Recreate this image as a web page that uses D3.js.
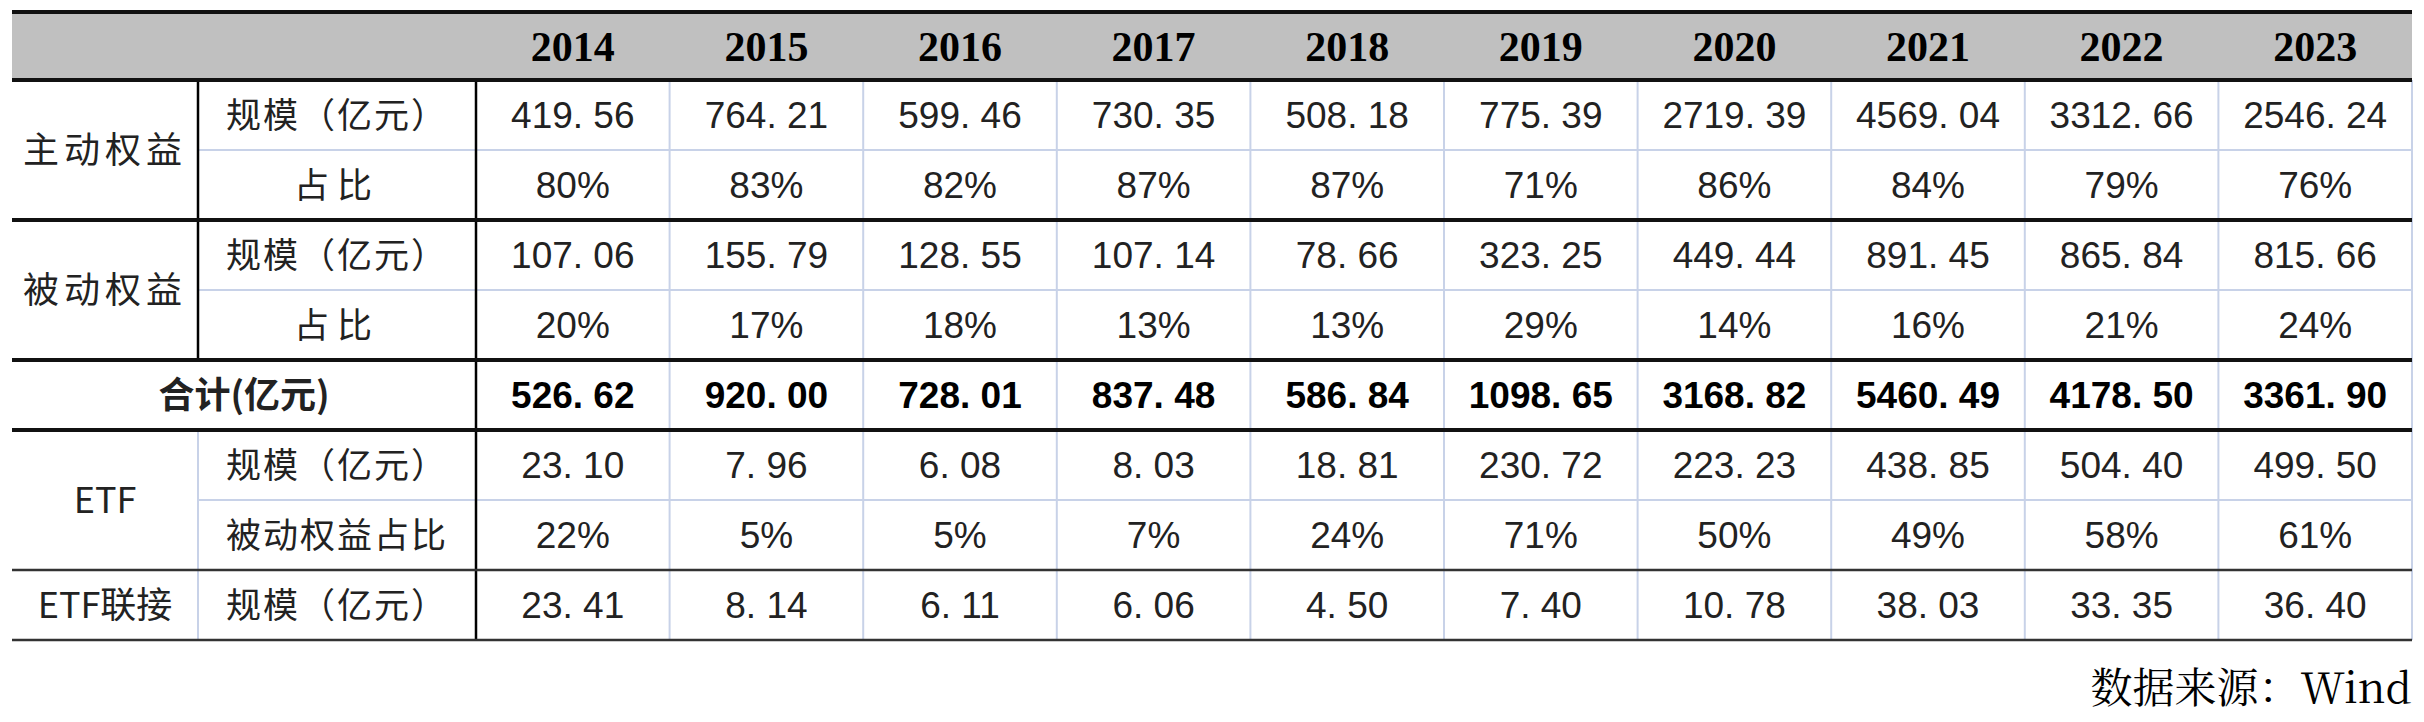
<!DOCTYPE html>
<html><head><meta charset="utf-8">
<script src="https://cdn.jsdelivr.net/npm/d3@7"></script>
<style>body{margin:0;background:#fff}</style>
</head><body>
<svg id="c" width="2424" height="722"></svg>
<script>
const years=["2014","2015","2016","2017","2018","2019","2020","2021","2022","2023"];
const activeScale=["419.56","764.21","599.46","730.35","508.18","775.39","2719.39","4569.04","3312.66","2546.24"];
const activePct=["80%","83%","82%","87%","87%","71%","86%","84%","79%","76%"];
const passiveScale=["107.06","155.79","128.55","107.14","78.66","323.25","449.44","891.45","865.84","815.66"];
const passivePct=["20%","17%","18%","13%","13%","29%","14%","16%","21%","24%"];
const totals=["526.62","920.00","728.01","837.48","586.84","1098.65","3168.82","5460.49","4178.50","3361.90"];
const etfScale=["23.10","7.96","6.08","8.03","18.81","230.72","223.23","438.85","504.40","499.50"];
const etfPct=["22%","5%","5%","7%","24%","71%","50%","49%","58%","61%"];
const linkScale=["23.41","8.14","6.11","6.06","4.50","7.40","10.78","38.03","33.35","36.40"];
const groups=[{name:"主动权益",rows:[0,1]},{name:"被动权益",rows:[2,3]},{name:"合计(亿元)",rows:[4],span:true},{name:"ETF",rows:[5,6]},{name:"ETF联接",rows:[7]}];
const rowLabels=["规模（亿元）","占比","规模（亿元）","占比","","规模（亿元）","被动权益占比","规模（亿元）"];
const rows=[activeScale,activePct,passiveScale,passivePct,totals,etfScale,etfPct,linkScale];

const svg=d3.select("#c");
const L=12,C1=198,C2=476,R=2412,TOP=12,HB=80,RH=70;
const x=d3.scaleBand().domain(years).range([C2,R]);
const y=d3.scaleBand().domain(d3.range(rows.length)).range([HB,HB+RH*rows.length]);
const numFont="'Liberation Sans',Arial,sans-serif", cjk="'Noto Sans CJK SC',sans-serif";
const fmt=s=>s.replace(".",". ");

svg.append("rect").attr("x",L).attr("y",TOP).attr("width",R-L).attr("height",HB-TOP).attr("fill","#c0c0c0");
svg.selectAll("text.yr").data(years).join("text").attr("class","yr")
 .attr("x",d=>x(d)+x.bandwidth()/2).attr("y",(TOP+HB)/2+15).attr("text-anchor","middle")
 .attr("font-family","'Liberation Serif','DejaVu Serif',serif").attr("font-weight","bold").attr("font-size",42).text(d=>d);

const g=svg.append("g").attr("stroke","#c8d2e8").attr("stroke-width",2);
years.slice(1).forEach(d=>g.append("line").attr("x1",x(d)).attr("x2",x(d)).attr("y1",HB).attr("y2",y(7)+RH));
g.append("line").attr("x1",R).attr("x2",R).attr("y1",HB).attr("y2",y(7)+RH);
[1,3,6].forEach(r=>g.append("line").attr("x1",C1).attr("x2",R).attr("y1",y(r)).attr("y2",y(r)));
g.append("line").attr("x1",C1).attr("x2",C1).attr("y1",y(5)).attr("y2",y(7)+RH);
const k=svg.append("g").attr("stroke","#000").attr("stroke-width",2.5);
k.append("line").attr("x1",C1).attr("x2",C1).attr("y1",HB).attr("y2",y(4));
k.append("line").attr("x1",C2).attr("x2",C2).attr("y1",HB).attr("y2",y(7)+RH);
[TOP,HB,y(2),y(4),y(5)].forEach(v=>svg.append("line").attr("x1",L).attr("x2",R).attr("y1",v).attr("y2",v).attr("stroke","#111").attr("stroke-width",4));
[y(7),y(7)+RH].forEach(v=>svg.append("line").attr("x1",L).attr("x2",R).attr("y1",v).attr("y2",v).attr("stroke","#333").attr("stroke-width",2.5));

groups.forEach(gr=>{
 const y0=y(gr.rows[0]), y1=y(gr.rows[gr.rows.length-1])+RH;
 const cx=gr.span?(L+C2)/2:(L+C1)/2;
 svg.append("text").attr("x",cx).attr("y",(y0+y1)/2+13).attr("text-anchor","middle")
  .attr("font-family",cjk).attr("font-size",36).attr("font-weight",gr.span?"bold":"normal")
  .attr("letter-spacing",/^[\u4e00-\u9fff]/.test(gr.name)&&!gr.span?5:0)
  .attr("fill","#222").text(gr.name);
});
rowLabels.forEach((t,i)=>{ if(!t) return;
 svg.append("text").attr("x",(C1+C2)/2).attr("y",y(i)+RH/2+13).attr("text-anchor","middle")
  .attr("font-family",cjk).attr("font-size",35).attr("letter-spacing",t.length<=2?8:2).attr("fill","#222").text(t);
});
rows.forEach((vals,i)=>{
 svg.selectAll(null).data(vals).join("text")
  .attr("x",(d,j)=>x(years[j])+x.bandwidth()/2).attr("y",y(i)+RH/2+13).attr("text-anchor","middle")
  .attr("font-family",numFont).attr("font-size",37).attr("font-weight",i===4?"bold":"normal")
  .attr("fill",i===4?"#000":"#222").text(d=>fmt(d));
});
svg.append("text").attr("x",R).attr("y",703).attr("text-anchor","end")
 .attr("font-family","'Noto Serif CJK SC','Liberation Serif',serif").attr("font-size",42).attr("fill","#000").text("数据来源：Wind");
</script></body></html>
